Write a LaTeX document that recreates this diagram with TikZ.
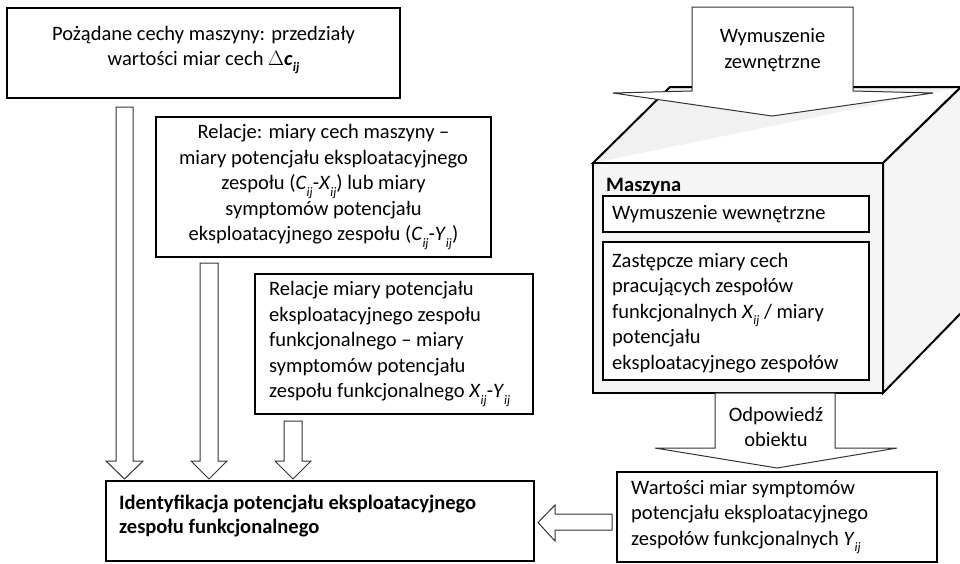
\documentclass[tikz,border=0pt]{standalone}
\usepackage{fontspec}
\setmainfont{Carlito}
\newcommand\ix[2]{\textit{#1}\raisebox{-0.3em}{\fontsize{13}{13}\selectfont\textit{#2}}}
\begin{document}
\begin{tikzpicture}[x=1pt,y=-1pt,
  frame/.style={draw=black, line width=2pt, fill=white, inner sep=0pt},
  thinframe/.style={draw=black, line width=1.2pt, fill=white, inner sep=0pt},
  txt/.style={font=\fontsize{20.5}{25.5}\selectfont, inner sep=0pt},
  barrow/.style={draw=black!80, line width=1pt, fill=white, line join=miter},
  cubeline/.style={draw=black, line width=2pt, line join=miter}]
\useasboundingbox (0,0) rectangle (960,563);

% --- left boxes ---
\node[frame, minimum width=393pt, minimum height=90pt] (b1) at (203.5,53) {};
\node[txt, align=center] (t1) at (203.5,50) {Pożądane cechy maszyny: przedziały\\wartości miar cech $\Delta$\textbf{\textit{c}}\raisebox{-0.3em}{\fontsize{13}{13}\selectfont\textbf{\textit{ij}}}};

\node[frame, minimum width=335pt, minimum height=140pt] (b2) at (323.5,187) {};
\node[txt, align=center] (t2) at (323.5,187) {Relacje: miary cech maszyny --\\miary potencjału eksploatacyjnego\\zespołu (\ix{C}{ij}-\ix{X}{ij}) lub miary\\symptomów potencjału\\eksploatacyjnego zespołu (\ix{C}{ij}-\ix{Y}{ij})};

\node[frame, minimum width=278pt, minimum height=140pt] (b3) at (394,344) {};
\node[txt, align=left, anchor=west] (t3) at (269,344) {Relacje miary potencjału\\eksploatacyjnego zespołu\\funkcjonalnego -- miary\\symptomów potencjału\\zespołu funkcjonalnego \ix{X}{ij}-\ix{Y}{ij}};

\node[frame, minimum width=428pt, minimum height=80pt] (b4) at (320,521) {};
\node[txt, align=left, anchor=west, font=\fontsize{20.5}{24.5}\selectfont\bfseries] (t4) at (119,516) {Identyfikacja potencjału eksploatacyjnego\\zespołu funkcjonalnego};

% --- down block arrows ---
\draw[barrow] (116,107) -- (133,107) -- (133,461) -- (143,461) -- (124.5,479) -- (106,461) -- (116,461) -- cycle;
\draw[barrow] (200,263) -- (218,263) -- (218,461) -- (227,461) -- (209,479) -- (191,461) -- (200,461) -- cycle;
\draw[barrow] (284,421) -- (302,421) -- (302,461) -- (311,461) -- (293,479) -- (275,461) -- (284,461) -- cycle;

% --- cube ---
\fill[white] (593,163) -- (670,87) -- (961,87) -- (883,163) -- cycle;
\fill[gray!11] (593,163) -- (670,87) -- (961,87) -- cycle;
\draw[cubeline] (593,163) -- (670,87) -- (961,87) -- (883,163) -- cycle;
\draw[cubeline, fill=gray!8] (883,163) -- (961,87) -- (961,313) -- (883,393) -- cycle;
\node[draw=black, line width=2pt, fill=gray!8, minimum width=290pt, minimum height=230pt, inner sep=0pt] (cube) at (738,278) {};
\node[txt, anchor=west, font=\fontsize{20.5}{25.5}\selectfont\bfseries] (mas) at (606,186) {Maszyna};
\node[thinframe, minimum width=266pt, minimum height=36pt] (in1) at (736,214) {};
\node[txt, anchor=west] (ti1) at (612,214) {Wymuszenie wewnętrzne};
\node[thinframe, minimum width=266pt, minimum height=138pt] (in2) at (736,311) {};
\node[txt, align=left, anchor=west] (ti2) at (612,313) {Zastępcze miary cech\\pracujących zespołów\\funkcjonalnych \ix{X}{ij} / miary\\potencjału\\eksploatacyjnego zespołów};

% --- Wymuszenie zewnętrzne arrow ---
\draw[barrow] (692,7) -- (853,7) -- (853,91) -- (933,93) -- (772,116) -- (613,93) -- (692,91) -- cycle;
\node[txt, align=center] (tw) at (772.5,50) {Wymuszenie\\zewnętrzne};

% --- Odpowiedź obiektu arrow ---
\draw[barrow] (715,393) -- (835,393) -- (835,448) -- (897,448) -- (777,468) -- (655,448) -- (715,448) -- cycle;
\node[txt, align=center] (to) at (776,427) {Odpowiedź\\obiektu};

% --- Wartości box ---
\node[frame, minimum width=320pt, minimum height=90pt] (b5) at (777,516.5) {};
\node[txt, align=left, anchor=west] (t5) at (631,517) {Wartości miar symptomów\\potencjału eksploatacyjnego\\zespołów funkcjonalnych \ix{Y}{ij}};

% --- left arrow ---
\draw[barrow] (612,514) -- (555,514) -- (555,505) -- (538,522.5) -- (555,541) -- (555,530) -- (612,530) -- cycle;
\end{tikzpicture}
\end{document}
